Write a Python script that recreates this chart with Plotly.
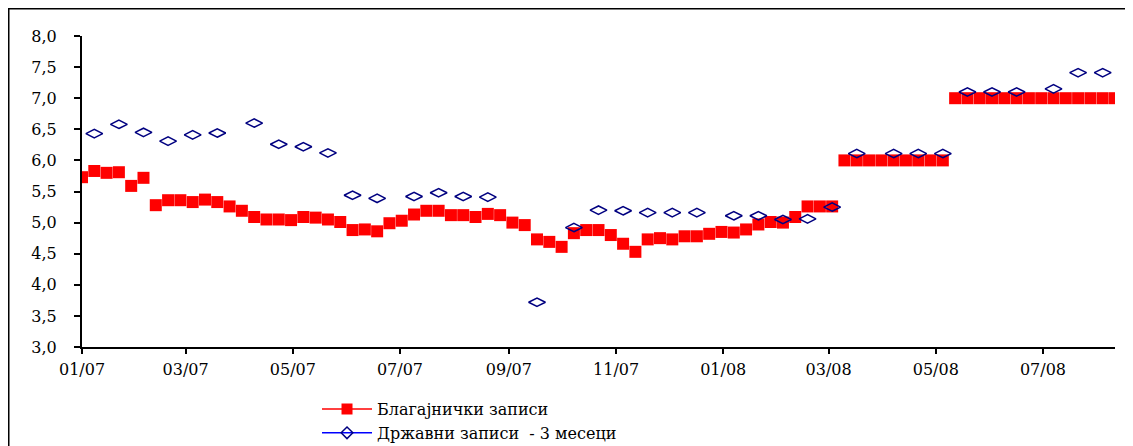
import pandas as pd
import plotly.graph_objects as go

# weekly observations, January 2007 - August 2008
weeks = pd.date_range("2007-01-01", periods=85, freq="7D")

# Благајнички записи, % (every week)
cb_bills = [
    5.73, 5.83, 5.80, 5.81, 5.59, 5.72, 5.28, 5.36, 5.36, 5.33,
    5.37, 5.33, 5.26, 5.19, 5.09, 5.05, 5.05, 5.04, 5.09, 5.08,
    5.05, 5.01, 4.88, 4.89, 4.86, 4.99, 5.03, 5.13, 5.19, 5.19,
    5.12, 5.12, 5.09, 5.14, 5.12, 5.00, 4.96, 4.73, 4.69, 4.61,
    4.83, 4.88, 4.88, 4.80, 4.66, 4.53, 4.73, 4.75, 4.73, 4.78,
    4.78, 4.82, 4.85, 4.84, 4.89, 4.97, 5.01, 5.00, 5.09, 5.26,
    5.26, 5.26, 6.00, 6.00, 6.00, 6.00, 6.00, 6.00, 6.00, 6.00,
    6.00, 7.00, 7.00, 7.00, 7.00, 7.00, 7.00, 7.00, 7.00, 7.00,
    7.00, 7.00, 7.00, 7.00, 7.00,
]

# Државни записи - 3 месеци, % (auctions roughly every second week)
t_bills = [
    None, 6.43, None, 6.58, None, 6.45, None, 6.31, None, 6.41,
    None, 6.44, None, None, 6.60, None, 6.26, None, 6.22, None,
    6.12, None, 5.44, None, 5.39, None, None, 5.42, None, 5.48,
    None, 5.42, None, 5.41, None, None, None, 3.72, None, None,
    4.92, None, 5.20, None, 5.19, None, 5.16, None, 5.16, None,
    5.16, None, None, 5.11, None, 5.11, None, 5.05, None, 5.06,
    None, 5.25, None, 6.11, None, None, 6.11, None, 6.11, None,
    6.11, None, 7.10, None, 7.10, None, 7.10, None, None, 7.15,
    None, 7.41, None, 7.41, None,
]

name_cb = "Благајнички записи"
name_tb = "Државни записи  - 3 месеци"

serif = "DejaVu Serif"

fig = go.Figure()

fig.add_trace(go.Scatter(
    x=weeks, y=cb_bills, mode="markers", showlegend=False,
    marker=dict(symbol="square", size=12, color="#FF0000"),
))
fig.add_trace(go.Scatter(
    x=weeks, y=t_bills, mode="markers", showlegend=False,
    marker=dict(symbol="diamond-wide-open", size=12, color="#000080",
                line=dict(width=1.5, color="#000080")),
))

# legend entries (line + marker, as in the original)
fig.add_trace(go.Scatter(
    x=[None], y=[None], mode="lines+markers", name=name_cb,
    line=dict(color="#FF0000", width=1.5),
    marker=dict(symbol="square", size=11, color="#FF0000"),
))
fig.add_trace(go.Scatter(
    x=[None], y=[None], mode="lines+markers", name=name_tb,
    line=dict(color="#0000FF", width=1.5),
    marker=dict(symbol="diamond-open", size=9, color="#000080",
                line=dict(width=1.5, color="#000080")),
))

# the page puts the figure 8px in from the top-left corner
fig.update_layout(
    width=1133,
    height=446,
    margin=dict(l=74, r=26, t=28, b=107, autoexpand=False),
    paper_bgcolor="white",
    plot_bgcolor="white",
    separators=",.",
    font=dict(family=serif, size=16, color="black"),
    xaxis=dict(
        type="date",
        range=[weeks[0], weeks[-1]],
        tick0="2007-01-01",
        dtick="M2",
        tickformat="%m/%y",
        showgrid=False,
        zeroline=False,
        showline=True,
        linecolor="black",
        linewidth=2,
        ticks="outside",
        ticklen=5,
        tickwidth=1.5,
        tickcolor="black",
        ticklabelstandoff=2,
    ),
    yaxis=dict(
        range=[3.0, 8.0],
        dtick=0.5,
        tickformat=".1f",
        showgrid=False,
        zeroline=False,
        showline=True,
        linecolor="black",
        linewidth=2,
        ticks="outside",
        ticklen=6,
        tickwidth=1.5,
        tickcolor="black",
        ticklabelstandoff=14,
    ),
    legend=dict(
        x=0.2275, y=-0.145, xanchor="left", yanchor="top",
        bgcolor="rgba(0,0,0,0)", itemwidth=50,
        font=dict(family=serif, size=16),
    ),
)

# chart frame
fig.add_shape(type="rect", xref="paper", yref="paper",
              x0=-0.0709, x1=1.0155, y0=-0.40, y1=1.0876,
              line=dict(color="black", width=1.5), fillcolor="rgba(0,0,0,0)",
              layer="below")

# unit label, mostly cut off at the top of the picture
fig.add_annotation(text="(во %)", xref="paper", yref="paper",
                   x=-0.078, y=1.083, xanchor="left", yanchor="bottom",
                   showarrow=False, font=dict(family=serif, size=18))

fig.write_html("out.html")
